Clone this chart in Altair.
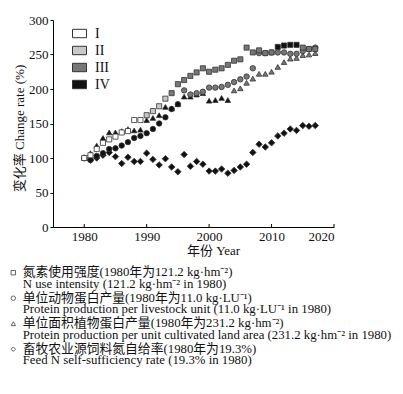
import altair as alt
import pandas as pd

years = list(range(1980, 2018))

# N use intensity (squares)
n_use = [100, 104, 113, 122, 127, 131, 137, 139, 155, 155,
         162, 168, 175, 186, 194, 207, 213, 219, 224, 230,
         225, 228, 230, 235, 241, 243, 260, 253, 256, 252,
         253, 261, 263, 264, 264, 260, 258, 258]
n_use_cls = (["I"] * 10 + ["II"] * 4 + ["III"] * 17 + ["IV"] * 4 + ["III"] * 3)

# Protein production per livestock unit (circles)
prot_lu = [100, 97, 103, 107, 113, 114, 118, 123, 129, 132,
           136, 142, 150, 159, 171, 178, 198, 192, 194, 196,
           202, 202, 203, 206, 210, 214, 218, 230, 252, 252,
           253, 253, 253, 251, 251, 255, 258, 260]
prot_lu_cls = ["IV"] * 16 + ["III"] * 22

# Protein production per unit cultivated land area (triangles)
prot_land = [100, 107, 118, 129, 137, 137, 139, 142, 140, 141,
             155, 158, 162, 174, 172, 178, 189, 189, 192, 194,
             183, 184, 187, 184, 198, 201, 209, 215, 222, 222,
             225, 232, 239, 244, 245, 249, 250, 252]
prot_land_cls = ["IV"] * 24 + ["III"] * 14

# Feed N self-sufficiency rate (diamonds)
feed_n = [100, 97, 100, 104, 108, 102, 92, 101, 95, 95,
          107, 98, 90, 99, 87, 80, 105, 88, 95, 91,
          81, 81, 84, 78, 82, 87, 91, 108, 120, 116,
          122, 132, 136, 142, 140, 147, 146, 147]
feed_n_cls = ["IV"] * 38

classes = ["I", "II", "III", "IV"]
class_colors = ["#ffffff", "#c8c8c8", "#777777", "#111111"]

x_ticks = [1980, 1990, 2000, 2010, 2020]
y_ticks = [0, 50, 100, 150, 200, 250, 300]

legend_shapes = ["square", "circle", "triangle-up", "diamond"]
legend_text = [
    "氮素使用强度(1980年为121.2 kg·hm⁻²)\nN use intensity (121.2 kg·hm⁻² in 1980)",
    "单位动物蛋白产量(1980年为11.0 kg·LU⁻¹)\nProtein production per livestock unit (11.0 kg·LU⁻¹ in 1980)",
    "单位面积植物蛋白产量(1980年为231.2 kg·hm⁻²)\nProtein production per unit cultivated land area (231.2 kg·hm⁻² in 1980)",
    "畜牧农业源饲料氮自给率(1980年为19.3%)\nFeed N self-sufficiency rate (19.3% in 1980)",
]

FONT = "Liberation Serif, Noto Sans CJK SC"

def series_df(vals, cls):
    return pd.DataFrame({"year": years, "value": vals, "cls": cls})

W, H = 281, 207

xenc = alt.X("year:Q",
             scale=alt.Scale(domain=[1975, 2020], nice=False),
             axis=alt.Axis(values=x_ticks, format="d", title="年份 Year",
                           grid=False, tickSize=0, labelPadding=3,
                           titleX=160, titleY=17))
yenc = alt.Y("value:Q",
             scale=alt.Scale(domain=[0, 300], nice=False),
             axis=alt.Axis(values=y_ticks, title="变化率 Change rate (%)",
                           grid=False, tickSize=3, labelPadding=2,
                           titleX=-27, titleY=108))
fenc = alt.Fill("cls:N",
                scale=alt.Scale(domain=classes, range=class_colors),
                legend=alt.Legend(title=None, orient="none", legendX=19, legendY=6,
                                  symbolType="M-1,-0.6H1V0.6H-1Z", symbolSize=196,
                                  symbolStrokeColor="#333333", symbolStrokeWidth=1,
                                  labelFont="Liberation Serif", labelFontSize=14,
                                  labelColor="#111111",
                                  labelOffset=8, rowPadding=2, padding=0))

def layer(vals, cls, shape, size):
    return alt.Chart(series_df(vals, cls)).mark_point(
        shape=shape, filled=True, stroke="#333333", strokeWidth=0.8,
        size=size, opacity=1
    ).encode(x=xenc, y=yenc, fill=fenc)

tick_df = pd.DataFrame({"year": x_ticks})
ticks = alt.Chart(tick_df).mark_rule(color="black", strokeWidth=1).encode(
    x=alt.X("year:Q", scale=alt.Scale(domain=[1975, 2020], nice=False)),
    y=alt.value(H - 3), y2=alt.value(H))

main = alt.layer(
    ticks,
    layer(feed_n, feed_n_cls, "diamond", 42),
    layer(prot_land, prot_land_cls, "triangle-up", 30),
    layer(prot_lu, prot_lu_cls, "circle", 30),
    layer(n_use, n_use_cls, "square", 26),
)

# bottom legend block, placed below the plot through its own scale
leg_df = pd.DataFrame({"entry": list(range(4)), "shape": legend_shapes, "text": legend_text})
leg_y = alt.Y("entry:Q", axis=None,
              scale=alt.Scale(domain=[0, 3], range=[246.3, 322.8], nice=False, zero=False))
leg_marks = alt.Chart(leg_df).mark_point(filled=False, stroke="#222222", strokeWidth=1,
                                         size=20, yOffset=6.4).encode(
    x=alt.value(-39.7), y=leg_y, shape=alt.Shape("shape:N", scale=None))
leg_text = alt.Chart(leg_df).mark_text(align="left", baseline="top", font=FONT,
                                       fontSize=12.8, lineHeight=11.3, lineBreak="\n",
                                       color="#111111").encode(
    x=alt.value(-30.3), y=leg_y, text="text:N")
bottom = alt.layer(leg_marks, leg_text)

chart = alt.layer(main, bottom).resolve_scale(y="independent").properties(
    width=W, height=H,
    autosize=alt.AutoSizeParams(type="none"),
    padding={"left": 45, "top": 12, "right": 59, "bottom": 146},
).configure_view(
    stroke="transparent"
).configure_axis(
    domainColor="black", tickColor="black", labelColor="#111111",
    titleColor="#111111", labelFont="Liberation Serif", labelFontSize=13,
    titleFont=FONT, titleFontSize=13, titleFontWeight="normal"
)

chart.save("out.html", embed_options={"renderer": "svg", "actions": False})
